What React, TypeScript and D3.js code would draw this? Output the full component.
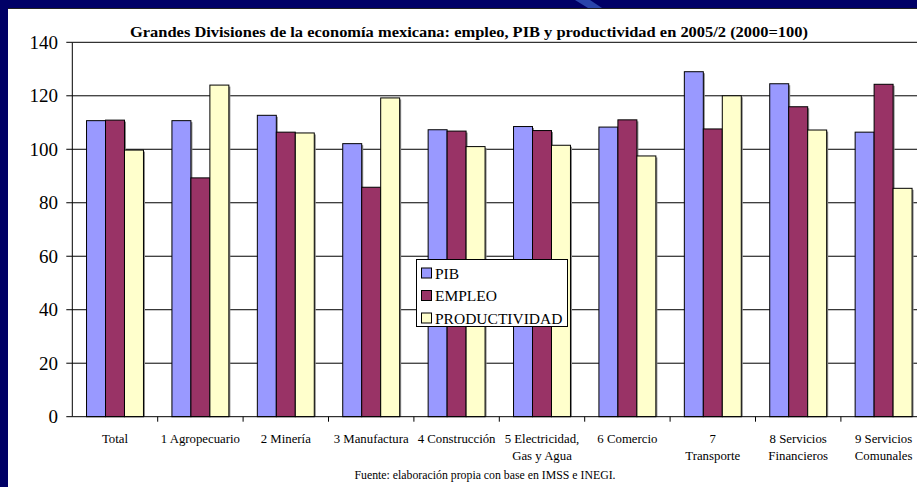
import React, { useEffect } from "react";
import * as d3 from "d3";

const categories = [
  "Total",
  "1 Agropecuario",
  "2 Minería",
  "3 Manufactura",
  "4 Construcción",
  "5 Electricidad,|Gas y Agua",
  "6 Comercio",
  "7|Transporte",
  "8 Servicios|Financieros",
  "9 Servicios|Comunales",
];
const seriesNames = ["PIB", "EMPLEO", "PRODUCTIVIDAD"];
const pib = [110.7, 110.7, 112.7, 102.1, 107.3, 108.5, 108.3, 129.0, 124.5, 106.4];
const empleo = [110.9, 89.3, 106.4, 85.8, 106.8, 107.0, 111.0, 107.6, 115.9, 124.3];
const productividad = [99.7, 124.0, 106.1, 119.2, 101.0, 101.5, 97.5, 120.0, 107.2, 85.4];
const yTicks = [0, 20, 40, 60, 80, 100, 120, 140];
const colors = ["#9999FF", "#993366", "#FFFFCC"];
const title = "Grandes Divisiones de la economía mexicana: empleo, PIB y productividad en 2005/2 (2000=100)";
const source = "Fuente: elaboración propia con base en IMSS e INEGI.";

const W = 917;
const H = 487;
const FONT = "Liberation Serif, Times New Roman, DejaVu Serif, serif";

export default function App() {
  useEffect(() => {
    document.body.style.margin = "0";
    document.body.style.overflow = "hidden";
  }, []);
  const values = [pib, empleo, productividad];
  const x = d3.scaleBand<string>().domain(categories).range([72.3, 72.3 + 854]).padding(0);
  const bw = x.bandwidth();
  const groupW = (bw * 3) / 4.5;
  const xs = d3.scaleBand<string>().domain(seriesNames).range([0, groupW]).padding(0);
  const y = d3.scaleLinear().domain([0, 140]).range([416.7, 42.3]);
  const x0 = 72.3;
  const y0 = y(0);
  const ts = { fontFamily: FONT };

  return (
    <svg
      width={W}
      height={H}
      viewBox={`0 0 ${W} ${H}`}
      style={{ position: "fixed", left: 0, top: 0, display: "block", fontFamily: FONT }}
    >
      <rect x={0} y={0} width={W + 20} height={H + 20} fill="#000066" />
      <polygon points="575,0 590,0 602,8 588,8" fill="#3355bb" opacity={0.8} />
      <rect x={8} y={8} width={W + 20} height={H + 20} fill="#ffffff" />
      <line x1={8} x2={W} y1={8.5} y2={8.5} stroke="#222" strokeWidth={1} />

      {yTicks.filter((t) => t > 0).map((t) => (
        <line key={"g" + t} x1={x0} x2={W} y1={y(t)} y2={y(t)} stroke="#000" strokeWidth={1} />
      ))}

      {categories.map((c, i) => {
        const gx = (x(c) as number) + (bw - groupW) / 2;
        return seriesNames.map((s, j) => {
          const v = values[j][i];
          const bx = gx + (xs(s) as number);
          return (
            <g key={c + s}>
              <rect x={bx + 1.5} y={y(v) + 1.5} width={xs.bandwidth()} height={y0 - y(v) - 1.5} fill="#888" />
              <rect
                x={bx}
                y={y(v)}
                width={xs.bandwidth()}
                height={y0 - y(v)}
                fill={colors[j]}
                stroke="#000"
                strokeWidth={1}
              />
            </g>
          );
        });
      })}

      <line x1={x0} x2={x0} y1={y(140)} y2={y0} stroke="#000" strokeWidth={1} />
      {yTicks.map((t) => (
        <g key={"t" + t}>
          <line x1={x0 - 6} x2={x0} y1={y(t)} y2={y(t)} stroke="#000" />
          <text x={58} y={y(t) + 6.5} textAnchor="end" fontSize={19} fill="#000" style={ts}>
            {t}
          </text>
        </g>
      ))}

      <line x1={x0} x2={W} y1={y0} y2={y0} stroke="#000" strokeWidth={1} />
      {categories.map((c, i) =>
        i > 0 ? (
          <line key={"xt" + i} x1={x(c)} x2={x(c)} y1={y0} y2={y0 + 5} stroke="#000" />
        ) : null
      )}
      {categories.map((c) => {
        const cx = (x(c) as number) + bw / 2;
        return c.split("|").map((line, k) => (
          <text key={c + k} x={cx} y={443 + k * 17} textAnchor="middle" fontSize={12.8} fill="#000" style={ts}>
            {line}
          </text>
        ));
      })}

      <text
        x={130}
        y={37}
        fontSize={15}
        fontWeight="bold"
        fill="#000"
        style={ts}
        textLength={678}
        lengthAdjust="spacingAndGlyphs"
      >
        {title}
      </text>

      <g>
        <rect x={416.5} y={259.5} width={151} height={67} fill="#fff" stroke="#000" strokeWidth={1} />
        {seriesNames.map((s, j) => (
          <g key={"l" + s}>
            <rect x={421.5} y={268 + j * 22.5} width={10} height={10} fill={colors[j]} stroke="#000" />
            <text x={435} y={278.5 + j * 22.5} fontSize={15.5} fill="#000" style={ts}>
              {s}
            </text>
          </g>
        ))}
      </g>

      <text x={485} y={479} textAnchor="middle" fontSize={11.8} fill="#000" style={ts}>
        {source}
      </text>
    </svg>
  );
}
